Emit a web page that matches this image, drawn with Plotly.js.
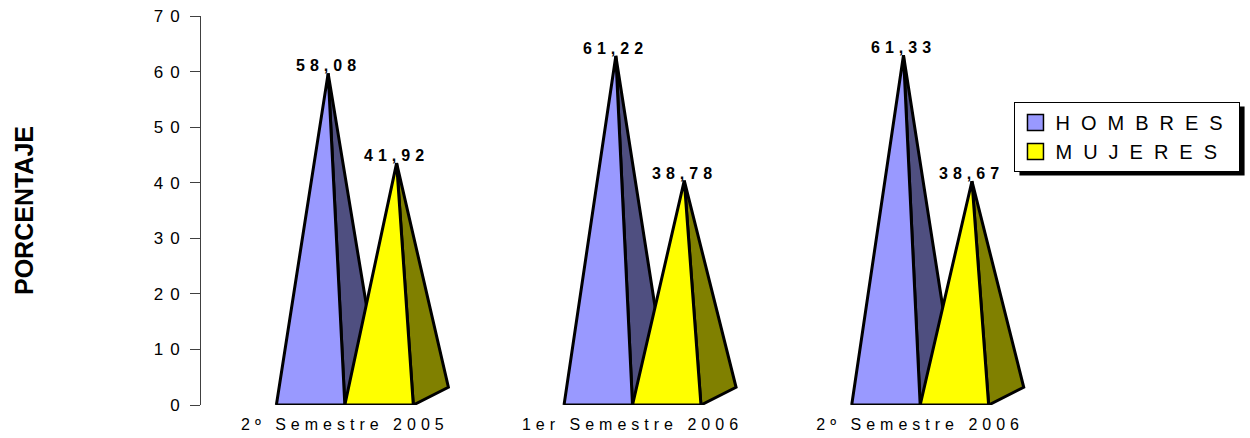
<!DOCTYPE html>
<html>
<head>
<meta charset="utf-8">
<script src="https://cdn.plot.ly/plotly-3.0.1.min.js"></script>
<style>
  html, body { margin: 0; padding: 0; background: #ffffff; }
  #chart { width: 1250px; height: 438px; }
  .ytick text { letter-spacing: 7px; }
  .xtick text { letter-spacing: 5px; }
  .legendtext { letter-spacing: 11px; }
  .annotation-text { letter-spacing: 5px; }
</style>
</head>
<body>
<div id="chart"></div>
<script>
// ---- data ----
const categories = ['2º Semestre 2005', '1er Semestre 2006', '2º Semestre 2006'];
const hombres = [58.08, 61.22, 61.33];
const mujeres = [41.92, 38.78, 38.67];
const seriesNames = ['HOMBRES', 'MUJERES'];
const yTickVals = [0, 10, 20, 30, 40, 50, 60, 70];
const yTickText = ['0', '10', '20', '30', '40', '50', '60', '70'];

// ---- style / geometry ----
const W = 0.238;    // pyramid base width (category units)
const DX = 0.122;   // 3D depth, x (category units)
const DY = 3.19;    // 3D depth, y (value units)
const frontColors = ['#9999FF', '#FFFF00'];
const sideColors = ['#4F4F80', '#808000'];
const series = [hombres, mujeres];

const traces = [];
categories.forEach((cat, i) => {
  series.forEach((vals, s) => {
    const xl = i - W + s * W;
    const xr = xl + W;
    const ax = (xl + xr) / 2 + DX / 2;
    const ay = vals[i] + DY / 2;
    // right (side) face
    traces.push({
      type: 'scatter', mode: 'lines', fill: 'toself',
      x: [xr, xr + DX, ax, xr], y: [0, DY, ay, 0],
      fillcolor: sideColors[s], line: {color: '#000000', width: 3},
      hoverinfo: 'skip', showlegend: false
    });
    // front face
    traces.push({
      type: 'scatter', mode: 'lines', fill: 'toself',
      x: [xl, xr, ax, xl], y: [0, 0, ay, 0],
      fillcolor: frontColors[s], line: {color: '#000000', width: 3},
      hoverinfo: 'skip', showlegend: false
    });
  });
});
// legend entries
seriesNames.forEach((nm, s) => {
  traces.push({
    type: 'scatter', mode: 'markers', x: [null], y: [null], name: nm,
    marker: {symbol: 'square', size: 16, color: frontColors[s], line: {color: '#000000', width: 1.5}},
    hoverinfo: 'skip', showlegend: true
  });
});

// data labels
const annotations = [];
categories.forEach((cat, i) => {
  series.forEach((vals, s) => {
    const xl = i - W + s * W;
    annotations.push({
      x: xl + W / 2 + DX / 2, y: vals[i] + DY / 2,
      xref: 'x', yref: 'y', showarrow: false,
      text: vals[i].toFixed(2).replace('.', ','),
      xanchor: 'center', yanchor: 'bottom', yshift: -3,
      font: {size: 16, weight: 700, color: '#000000'}
    });
  });
});

const L = 201, R = 1063.5, T = 16, B = 405;
const px = v => (v - L) / (R - L);
const py = v => (B - v) / (B - T);

const layout = {
  width: 1250, height: 438,
  margin: {l: 201, r: 186, t: 16, b: 33, pad: 0, autoexpand: false},
  paper_bgcolor: '#ffffff', plot_bgcolor: '#ffffff',
  font: {family: '"Liberation Sans", Arial, sans-serif', color: '#000000', size: 15},
  showlegend: true,
  legend: {
    x: px(1014), y: py(102), xanchor: 'left', yanchor: 'top',
    bgcolor: '#ffffff', bordercolor: '#000000', borderwidth: 1,
    font: {size: 20, color: '#000000'}, traceorder: 'normal', tracegroupgap: 0
  },
  xaxis: {
    range: [-0.5, 2.5], tickvals: [0, 1, 2], ticktext: categories,
    showline: false, showgrid: false, zeroline: false, ticks: '',
    tickfont: {size: 16}, ticklabelstandoff: 8, fixedrange: true
  },
  yaxis: {
    range: [0, 70], tickvals: yTickVals, ticktext: yTickText,
    showline: true, linecolor: '#404040', linewidth: 1,
    ticks: 'outside', ticklen: 10, tickcolor: '#404040', tickwidth: 1,
    showgrid: false, zeroline: false, tickfont: {size: 17}, fixedrange: true,
    title: {text: 'PORCENTAJE', font: {size: 25, weight: 700}, standoff: 112}
  },
  shapes: [],
  annotations: annotations
};

Plotly.newPlot('chart', traces, layout, {staticPlot: true, displayModeBar: false}).then(gd => {
  // legend drop shadow placed from the drawn legend box
  const bg = gd.querySelector('.legend .bg');
  if (!bg) return;
  const r = bg.getBoundingClientRect();
  const c = gd.getBoundingClientRect();
  const x0 = r.left - c.left, x1 = r.right - c.left, y0 = r.top - c.top, y1 = r.bottom - c.top;
  const off = 4;
  return Plotly.relayout(gd, {shapes: [{
    type: 'rect', xref: 'paper', yref: 'paper', layer: 'above',
    x0: px(x0 + off), x1: px(x1 + off), y0: py(y1 + off), y1: py(y0 + off),
    fillcolor: '#000000', line: {width: 0}
  }]});
});
</script>
</body>
</html>
